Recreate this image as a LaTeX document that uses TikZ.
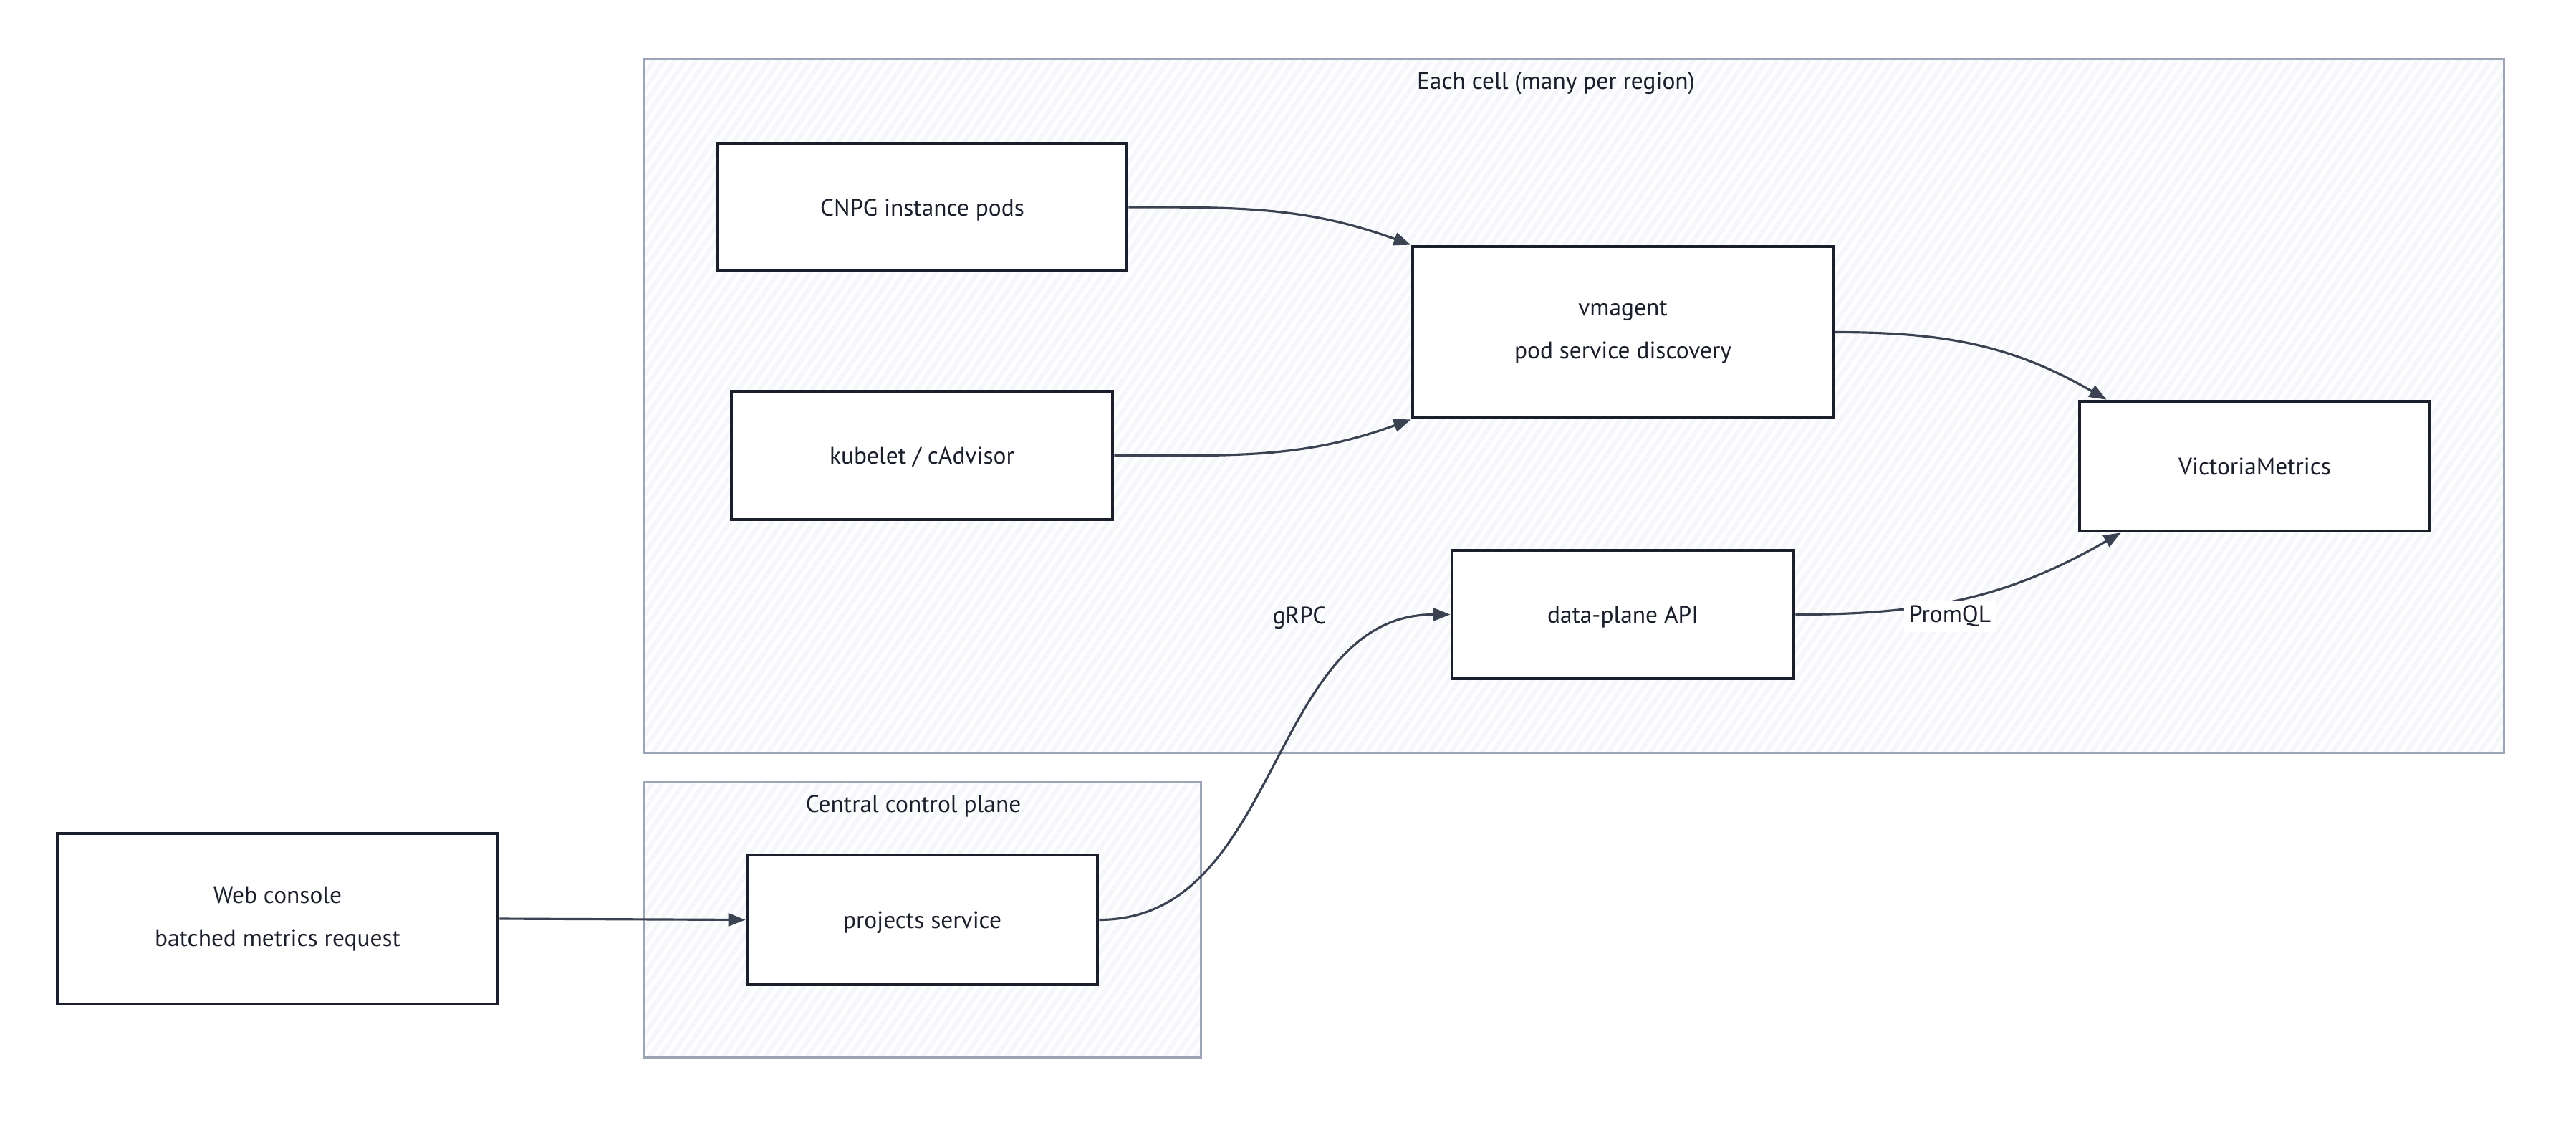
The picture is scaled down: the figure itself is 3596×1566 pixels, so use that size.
\documentclass[tikz,border=0pt]{standalone}
\usepackage{fontspec}
\setmainfont{PT Sans}
\usetikzlibrary{arrows.meta,patterns.meta}
\definecolor{ink}{HTML}{1B1F2B}
\definecolor{edgec}{HTML}{3B4252}
\definecolor{grp}{HTML}{9CA5B6}
\definecolor{grpfill}{HTML}{F5F7FA}
\begin{document}
\begin{tikzpicture}[x=0.01cm,y=-0.01cm,
  box/.style={draw=ink,line width=1.3pt,fill=white,inner sep=0pt,align=center,
    font=\fontsize{9.5}{17}\selectfont,text=ink},
  oneline/.style={text height=0.31cm,text depth=0.07cm},
  group/.style={draw=grp,line width=0.9pt,inner sep=0pt,preaction={fill=grpfill},
    pattern={Lines[angle=55,distance=0.12cm,line width=0.05cm]},pattern color=white},
  grptitle/.style={font=\fontsize{9.5}{12}\selectfont,text=ink},
  conn/.style={draw=edgec,line width=0.9pt,-{Triangle[length=2.4mm,width=1.8mm]}},
  lbl/.style={font=\fontsize{9.5}{12}\selectfont,text=ink,fill=white,inner sep=2pt}
]
\useasboundingbox (0,0) rectangle (3596,1566);
% containers
\node[group,minimum width=25.96cm,minimum height=9.67cm] (cell) at (2197,566.5) {};
\node[grptitle] (celltitle) at (2172,116) {Each cell (many per region)};
\node[group,minimum width=7.77cm,minimum height=3.83cm] (central) at (1287.5,1283.5) {};
\node[grptitle] (centraltitle) at (1275,1125) {Central control plane};
% nodes
\node[box,oneline,minimum width=5.71cm,minimum height=1.78cm] (cnpg) at (1287.5,289) {CNPG instance pods};
\node[box,oneline,minimum width=5.32cm,minimum height=1.79cm] (kube) at (1287,635.5) {kubelet / cAdvisor};
\node[box,minimum width=5.87cm,minimum height=2.39cm] (vmag) at (2265.5,463.5) {vmagent\\pod service discovery};
\node[box,oneline,minimum width=4.89cm,minimum height=1.81cm] (vm) at (3147.5,650.5) {VictoriaMetrics};
\node[box,oneline,minimum width=4.77cm,minimum height=1.79cm] (dp) at (2265.5,857.5) {data-plane API};
\node[box,minimum width=6.15cm,minimum height=2.38cm] (web) at (387.5,1282) {Web console\\batched metrics request};
\node[box,oneline,minimum width=4.89cm,minimum height=1.81cm] (proj) at (1287.5,1283.5) {projects service};
% connectors
\draw[conn] (cnpg.east) to[out=0,in=160] (vmag.north west);
\draw[conn] (kube.east) to[out=0,in=200] (vmag.south west);
\draw[conn] (vmag.east) to[out=0,in=150] ([xshift=4mm]vm.north west);
\draw[conn] (dp.east) to[out=0,in=210] ([xshift=6mm]vm.south west);
\draw[conn] (proj.east) to[out=0,in=180] (dp.west);
\draw[conn] (web.east) -- (proj.west);
% labels
\node[lbl] (promql) at (2722,860) {PromQL};
\node[lbl,fill=none] (grpc) at (1814,862) {gRPC};
\end{tikzpicture}
\end{document}
